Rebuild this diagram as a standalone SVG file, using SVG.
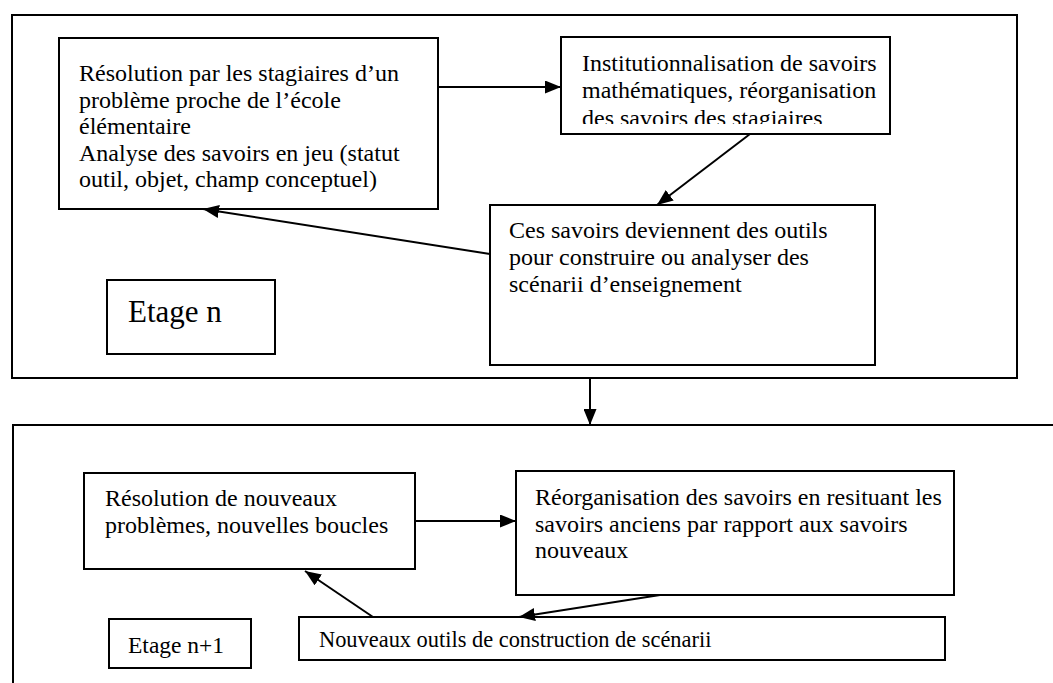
<svg xmlns="http://www.w3.org/2000/svg" width="1053" height="683" viewBox="0 0 1053 683">
<style>
.box{fill:#fff;stroke:#000;stroke-width:2}
.frame{fill:none;stroke:#000;stroke-width:2}
.t{font-family:"Liberation Serif","Times New Roman",serif;font-size:24px;fill:#000}
.conn{stroke:#000;stroke-width:2;fill:none}
</style>
<defs>
<marker id="ah" markerUnits="userSpaceOnUse" markerWidth="17" markerHeight="13" refX="16" refY="6.5" orient="auto">
<path d="M0,0 L16,6.5 L0,13 z" fill="#000"/>
</marker>
<clipPath id="clipB"><rect x="561" y="37" width="329" height="87"/></clipPath>
</defs>
<rect width="1053" height="683" fill="#fff"/>
<g id="etage-n-frame">
<rect class="frame" x="12" y="15" width="1005" height="363"/>
</g>
<g id="etage-n1-frame">
<path class="frame" d="M1053,425 L13,425 L13,683"/>
</g>
<g id="boxA">
<rect class="box" x="59" y="38" width="379" height="171"/>
<text class="t" x="79" y="81">Résolution par les stagiaires d’un</text>
<text class="t" x="79" y="108">problème proche de l’école</text>
<text class="t" x="79" y="134">élémentaire</text>
<text class="t" x="79" y="161">Analyse des savoirs en jeu (statut</text>
<text class="t" x="79" y="187">outil, objet, champ conceptuel)</text>
</g>
<g id="boxB">
<rect class="box" x="561" y="37" width="329" height="97"/>
<g clip-path="url(#clipB)">
<text class="t" x="582" y="71">Institutionnalisation de savoirs</text>
<text class="t" x="582" y="98">mathématiques, réorganisation</text>
<text class="t" x="582" y="126">des savoirs des stagiaires</text>
</g>
</g>
<g id="boxC">
<rect class="box" x="490" y="205" width="385" height="160"/>
<text class="t" x="509" y="238">Ces savoirs deviennent des outils</text>
<text class="t" x="509" y="265">pour construire ou analyser des</text>
<text class="t" x="509" y="292">scénarii d’enseignement</text>
</g>
<g id="etage-n">
<rect class="box" x="107" y="280" width="168" height="74"/>
<text class="t" x="128" y="322" style="font-size:31px">Etage n</text>
</g>
<g id="boxD">
<rect class="box" x="84" y="473" width="331" height="96"/>
<text class="t" x="105" y="506">Résolution de nouveaux</text>
<text class="t" x="105" y="533">problèmes, nouvelles boucles</text>
</g>
<g id="boxE">
<rect class="box" x="516" y="471" width="438" height="124"/>
<text class="t" x="535" y="505">Réorganisation des savoirs en resituant les</text>
<text class="t" x="535" y="532">savoirs anciens par rapport aux savoirs</text>
<text class="t" x="535" y="558">nouveaux</text>
</g>
<g id="boxF">
<rect class="box" x="299" y="617" width="646" height="43"/>
<text class="t" x="319" y="647" style="font-size:22.4px">Nouveaux outils de construction de scénarii</text>
</g>
<g id="etage-n1">
<rect class="box" x="109" y="619" width="142" height="49"/>
<text class="t" x="128" y="653" style="font-size:23.5px">Etage n+1</text>
</g>
<g id="connectors">
<line class="conn" x1="438" y1="87" x2="561" y2="87" marker-end="url(#ah)"/>
<line class="conn" x1="750" y1="134" x2="657" y2="205" marker-end="url(#ah)"/>
<line class="conn" x1="490" y1="254" x2="203" y2="209" marker-end="url(#ah)"/>
<line class="conn" x1="590" y1="378" x2="590" y2="425" marker-end="url(#ah)"/>
<line class="conn" x1="415" y1="521" x2="516" y2="521" marker-end="url(#ah)"/>
<line class="conn" x1="373" y1="617" x2="305" y2="571" marker-end="url(#ah)"/>
<line class="conn" x1="660" y1="595" x2="519" y2="617" marker-end="url(#ah)"/>
</g>
</svg>
